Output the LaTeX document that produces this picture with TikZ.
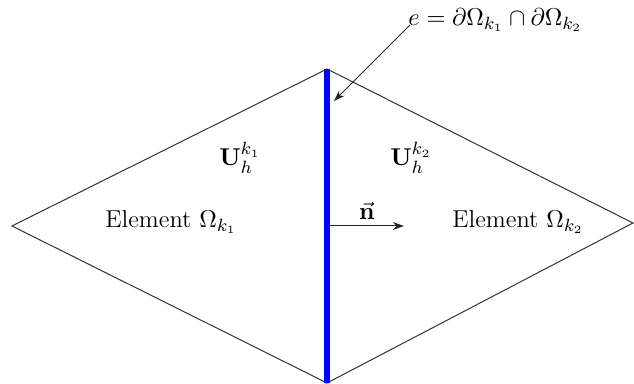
\documentclass[tikz,border=0pt]{standalone}
\usepackage{amsmath,amssymb}
\usetikzlibrary{arrows.meta}
\begin{document}
\begin{tikzpicture}[x=0.45pt,y=-0.45pt,
  edge/.style={draw=black!80,line width=0.45pt},
  face/.style={draw=blue,line width=2.3pt},
  pointer/.style={draw=black!85,line width=0.45pt,-{Stealth[length=5pt,width=3.5pt]}},
  lbl/.style={inner sep=0pt,font=\fontsize{11}{13}\selectfont}]
\useasboundingbox (0,0) rectangle (634,384);
\coordinate (top) at (327,69);
\coordinate (bot) at (327,383);
\coordinate (lft) at (12,226);
\coordinate (rgt) at (633,223);
\draw[edge] (top) -- (lft) -- (bot) -- (rgt) -- cycle;
\draw[face] (top) -- (bot);
\node[lbl,anchor=west] (elabel) at (408,20) {$e=\partial\Omega_{k_1}\cap\partial\Omega_{k_2}$};
\coordinate (etip) at (334,101);
\path (elabel.west) ++(2,5) coordinate (estart);
\draw[pointer] (estart) -- (etip);
\node[lbl] (u1) at (240,158) {$\mathbf{U}_h^{k_1}$};
\node[lbl] (u2) at (411,158) {$\mathbf{U}_h^{k_2}$};
\node[lbl] (el1) at (171,222) {Element $\Omega_{k_1}$};
\node[lbl] (el2) at (518,222) {Element $\Omega_{k_2}$};
\coordinate (nstart) at (327,226);
\coordinate (nend) at (404,226);
\draw[pointer] (nstart) -- (nend);
\node[lbl] (nlabel) at (367,211) {$\vec{\mathbf{n}}$};
\end{tikzpicture}
\end{document}
